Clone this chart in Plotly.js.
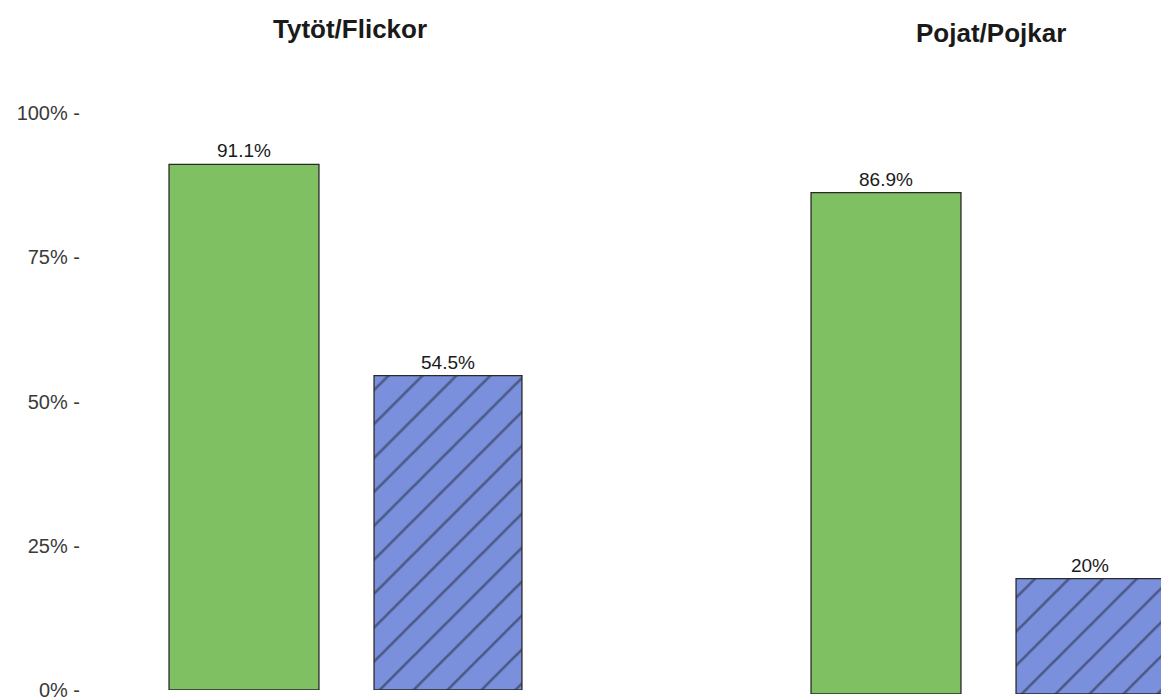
<!DOCTYPE html>
<html>
<head>
<meta charset="utf-8">
<script src="https://cdn.plot.ly/plotly-3.0.1.min.js"></script>
<style>html,body{margin:0;padding:0;background:#fff;}#chart{width:1161px;height:700px;}</style>
</head>
<body>
<div id="chart"></div>
<script>
const panels = ["Tytöt/Flickor", "Pojat/Pojkar"];
const greenValues = [91.1, 86.9];
const blueValues = [54.5, 20];
const greenLabels = ["91.1%", "86.9%"];
const blueLabels = ["54.5%", "20%"];
const tickVals = [0, 25, 50, 75, 100];
const tickText = ["0% -", "25% -", "50% -", "75% -", "100% -"];

const green = "#7fc062";
const blue = "#7b90dc";
const outline = "#2a2a2a";
const font = "Liberation Sans, Arial, sans-serif";

const traces = [];
panels.forEach((p, i) => {
  const xa = i === 0 ? "x" : "x2";
  const ya = i === 0 ? "y" : "y2";
  traces.push({
    type: "bar", x: [0], y: [greenValues[i]], text: [greenLabels[i]],
    xaxis: xa, yaxis: ya, width: 0.735,
    textposition: "outside", cliponaxis: false,
    textfont: {family: font, size: 19, color: "#1a1a1a"},
    marker: {color: green, line: {color: outline, width: 1.3}},
    hoverinfo: "skip", showlegend: false
  });
  traces.push({
    type: "bar", x: [1], y: [blueValues[i]], text: [blueLabels[i]],
    xaxis: xa, yaxis: ya, width: 0.725,
    textposition: "outside", cliponaxis: false,
    textfont: {family: font, size: 19, color: "#1a1a1a"},
    marker: {color: blue, line: {color: outline, width: 1.3},
      pattern: {shape: "/", fgcolor: "#1a1f30", bgcolor: blue, size: 24, solidity: 0.11, fillmode: "overlay"}},
    hoverinfo: "skip", showlegend: false
  });
});

const axisX = {showgrid: false, zeroline: false, showline: false, showticklabels: false, ticks: ""};
const layout = {
  width: 1161, height: 700,
  margin: {l: 80, r: 0, t: 113, b: 6},
  paper_bgcolor: "#fff", plot_bgcolor: "#fff",
  font: {family: font},
  xaxis: Object.assign({domain: [0.05735, 0.43478], range: [-0.5, 1.5]}, axisX),
  xaxis2: Object.assign({domain: [0.65125, 1], range: [-0.5, 1.348]}, axisX),
  yaxis: {domain: [4/581, 1], range: [0, 100], anchor: "free", position: 0,
    tickvals: tickVals, ticktext: tickText, showgrid: false, zeroline: false,
    showline: false, ticks: "", ticklabelstandoff: 0, ticklabeloverflow: "allow",
    tickfont: {family: font, size: 20, color: "#3a3a3a"}},
  yaxis2: {domain: [0, 577/581], range: [0, 100], anchor: "x2",
    showgrid: false, zeroline: false, showline: false, showticklabels: false, ticks: ""},
  annotations: [
    {text: "<b>" + panels[0] + "</b>", xref: "paper", yref: "paper", x: (350-80)/1081,
      y: 1 + (113 - 29) / 581,
      xanchor: "center", yanchor: "middle", showarrow: false, font: {family: font, size: 26, color: "#1a1a1a"}},
    {text: "<b>" + panels[1] + "</b>", xref: "paper", yref: "paper", x: (991-80)/1081,
      y: 1 + (113 - 33) / 581,
      xanchor: "center", yanchor: "middle", showarrow: false, font: {family: font, size: 26, color: "#1a1a1a"}}
  ]
};

Plotly.newPlot("chart", traces, layout, {staticPlot: true});
</script>
</body>
</html>
